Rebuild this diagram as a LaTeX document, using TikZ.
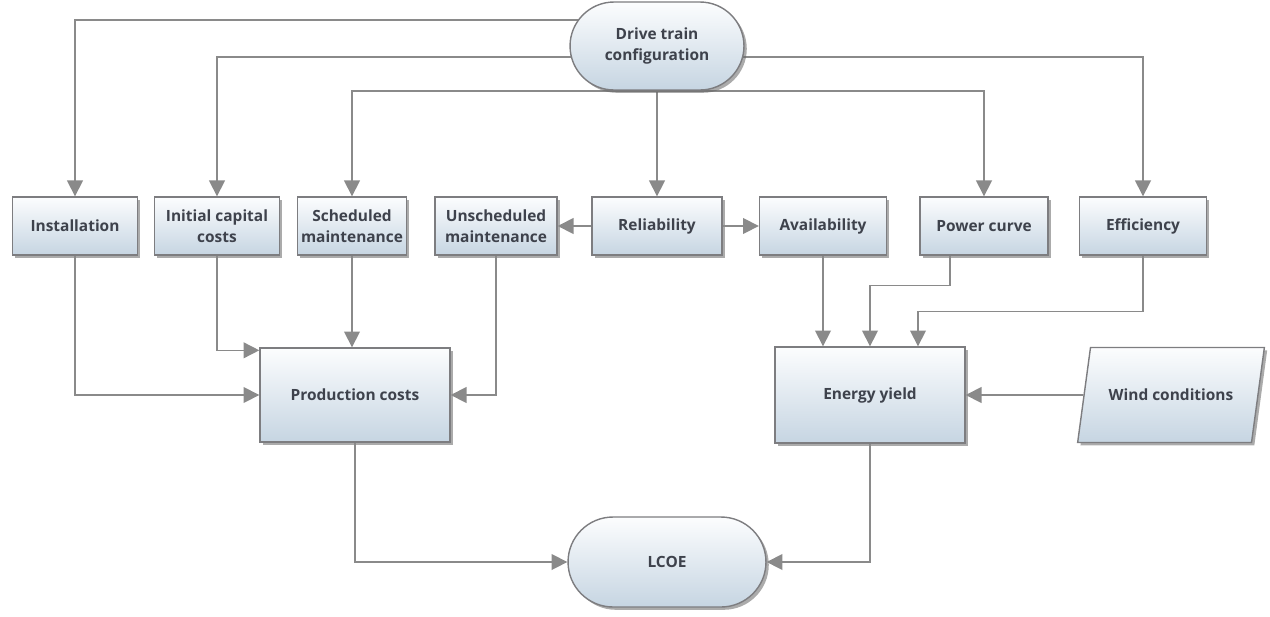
\documentclass[tikz,border=0pt]{standalone}
\usepackage{fontspec}
\setmainfont{Open Sans}
\usetikzlibrary{arrows.meta,shapes.misc,shapes.geometric,shadows,backgrounds}

\definecolor{boxtop}{RGB}{252,253,254}
\definecolor{boxbot}{RGB}{198,213,226}
\definecolor{boxline}{RGB}{125,125,128}
\definecolor{wire}{RGB}{138,138,138}
\definecolor{txt}{RGB}{62,66,76}

\tikzset{
  blk/.style={draw=boxline, line width=0.8pt, top color=boxtop, bottom color=boxbot,
    text=txt, font=\fontsize{8.8}{12}\selectfont\bfseries, align=center, inner xsep=2pt,
    drop shadow={shadow xshift=1.6pt, shadow yshift=-1.6pt, opacity=0.55, fill=black!60}},
  smallblk/.style={blk, minimum height=1.16cm},
  term/.style={blk, rounded rectangle, rounded rectangle arc length=180},
  windblk/.style={blk, trapezium, trapezium left angle=66, trapezium right angle=114,
    trapezium stretches=true},
  conn/.style={draw=wire, line width=0.9pt, -{Triangle[length=9pt,width=9pt]}, color=wire}
}

\begin{document}
\begin{tikzpicture}[x=0.02cm, y=-0.02cm]
        \useasboundingbox (0,0) rectangle (1270,616);

        \node[term, minimum width=3.62cm, minimum height=1.76cm] (drive) at (657,46) {Drive train\\configuration};

        \node[smallblk, minimum width=2.5cm] (inst) at (75,226) {Installation};
        \node[smallblk, minimum width=2.5cm] (init) at (217,226) {Initial capital\\costs};
        \node[smallblk, minimum width=2.14cm] (sched) at (352,226) {Scheduled\\maintenance};
        \node[smallblk, minimum width=2.44cm] (unsch) at (496,226) {Unscheduled\\maintenance};
        \node[smallblk, minimum width=2.6cm] (rel) at (657,226) {Reliability};
        \node[smallblk, minimum width=2.54cm] (avail) at (823,226) {Availability};
        \node[smallblk, minimum width=2.56cm] (power) at (984,226) {Power curve};
        \node[smallblk, minimum width=2.54cm] (eff) at (1143,226) {Efficiency};

        \node[blk, minimum width=3.8cm, minimum height=1.88cm] (prod) at (355,395) {Production costs};
        \node[blk, minimum width=3.8cm, minimum height=1.92cm] (energy) at (870,395) {Energy yield};
        \node[windblk, minimum width=3.74cm, minimum height=1.9cm] (wind) at (1171,395) {Wind conditions};

        \node[term, minimum width=4.1cm, minimum height=1.8cm] (lcoe) at (667,562) {LCOE};

        \begin{scope}[on background layer]
        % from the drive train
        \draw[conn] ([yshift=0.52cm]drive.center) -| (inst.north);
        \draw[conn] ([yshift=-0.22cm]drive.center) -| (init.north);
        \draw[conn] ([yshift=-0.9cm]drive.center) -| (sched.north);
        \draw[conn] (drive.south) -- (rel.north);
        \draw[conn] ([yshift=-0.9cm]drive.center) -| (power.north);
        \draw[conn] ([yshift=-0.22cm]drive.center) -| (eff.north);
        \end{scope}

        \draw[conn] (rel.west) -- (unsch.east);
        \draw[conn] (rel.east) -- (avail.west);

        % costs side
        \draw[conn] (inst.south) |- (prod.west);
        \draw[conn] (init.south) |- ([yshift=-0.06cm]prod.north west);
        \draw[conn] (sched.south) -- (sched.south |- prod.north);
        \draw[conn] (unsch.south) |- (prod.east);

        % yield side
        \draw[conn] (avail.south) -- (avail.south |- energy.north);
        \draw[conn] ([xshift=-0.68cm]power.south) -- ++(0,-0.6cm) -| (energy.north);
        \draw[conn] (eff.south) -- ++(0,-1.12cm) -| ([xshift=0.96cm]energy.north);
        \draw[conn] (wind.west) -- (energy.east);

        \draw[conn] (prod.south) |- (lcoe.west);
        \draw[conn] (energy.south) |- (lcoe.east);
\end{tikzpicture}
\end{document}
